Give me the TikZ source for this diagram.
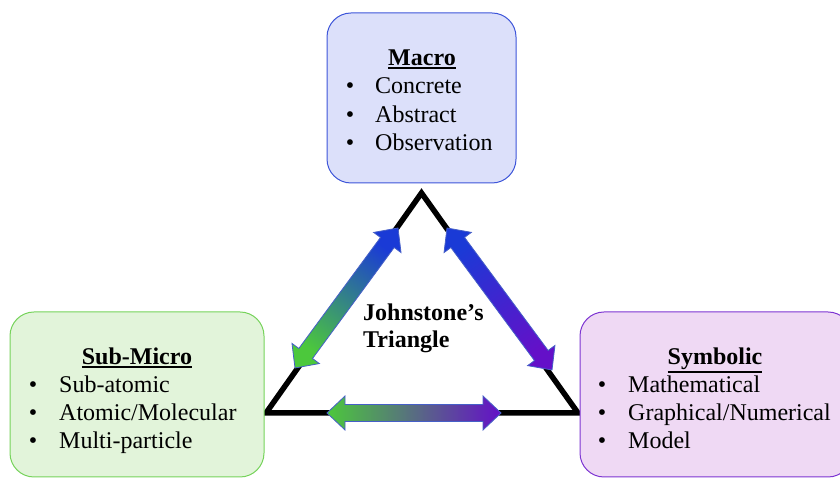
\documentclass[tikz,border=0pt]{standalone}
\usepackage{fontspec}
\setmainfont{Liberation Serif}
\usetikzlibrary{calc}

\definecolor{macrofill}{RGB}{220,224,250}
\definecolor{macroline}{RGB}{61,85,217}
\definecolor{microfill}{RGB}{226,244,218}
\definecolor{microline}{RGB}{118,211,91}
\definecolor{symbfill}{RGB}{239,217,244}
\definecolor{symbline}{RGB}{125,53,210}
\definecolor{arrgreen}{RGB}{76,200,60}
\definecolor{arrblue}{RGB}{26,58,214}
\definecolor{arrpurple}{RGB}{100,16,200}
\definecolor{arredge}{RGB}{70,95,200}

% heading with a heavier underline
\newcommand\thickul[1]{\leavevmode\vtop{\hbox{#1}\kern1.2pt\hrule height 1.7pt}}

\tikzset{
  box/.style={rounded corners=24pt, line width=1pt, inner sep=0pt},
  txt/.style={inner sep=0pt, font=\fontsize{24}{28}\selectfont},
  title/.style={txt, anchor=base, font=\fontsize{24}{28}\selectfont\bfseries},
  bul/.style={txt, anchor=base},
  item/.style={txt, anchor=base west},
  tri/.style={line width=5.5pt, line join=miter},
  gradarrowstyle/.style={draw=arredge, line width=0.8pt, line join=miter}
}

% double-headed block arrow between two named coordinates
\newcommand\gradarrow[3]{%
  \coordinate (#1a) at ($(#1)!18pt!(#2)$);
  \coordinate (#1b) at ($(#2)!18pt!(#1)$);
  \path[gradarrowstyle, #3]
    (#1)
    -- ($(#1a)!17pt!90:(#2)$) -- ($(#1a)!8.5pt!90:(#2)$)
    -- ($(#1b)!8.5pt!-90:(#1)$) -- ($(#1b)!17pt!-90:(#1)$)
    -- (#2)
    -- ($(#1b)!17pt!90:(#1)$) -- ($(#1b)!8.5pt!90:(#1)$)
    -- ($(#1a)!8.5pt!-90:(#2)$) -- ($(#1a)!17pt!-90:(#2)$)
    -- cycle;
}

\begin{document}
\begin{tikzpicture}[x=1pt,y=1pt]
\useasboundingbox (0,0) rectangle (840,478);

% triangle
\coordinate (apex) at (421.5,285);
\coordinate (bl) at (266,65);
\coordinate (br) at (578,65);
\draw[tri] (apex) -- (bl) -- (br) -- cycle;

% boxes
\node[box, fill=macrofill, draw=macroline, minimum width=189pt, minimum height=170pt] (macro) at (421.5,380) {};
\node[box, fill=microfill, draw=microline, minimum width=254pt, minimum height=165pt] (micro) at (137,83.5) {};
\node[box, fill=symbfill, draw=symbline, minimum width=272pt, minimum height=165pt] (symb) at (716,83.5) {};

% Macro text
\node[title] (mt) at (422,412) {\thickul{Macro}};
\node[bul] (mb1) at (350,384) {•};
\node[item] (mi1) at (375,384) {Concrete};
\node[bul] (mb2) at (350,355) {•};
\node[item] (mi2) at (375,355) {Abstract};
\node[bul] (mb3) at (350,327) {•};
\node[item] (mi3) at (375,327) {Observation};

% Sub-Micro text
\node[title] (st) at (137,113) {\thickul{Sub-Micro}};
\node[bul] (sb1) at (33,85) {•};
\node[item] (si1) at (59,85) {Sub-atomic};
\node[bul] (sb2) at (33,57) {•};
\node[item] (si2) at (59,57) {Atomic/Molecular};
\node[bul] (sb3) at (33,29) {•};
\node[item] (si3) at (59,29) {Multi-particle};

% Symbolic text
\node[title] (yt) at (715,113) {\thickul{Symbolic}};
\node[bul] (yb1) at (602,85) {•};
\node[item] (yi1) at (628,85) {Mathematical};
\node[bul] (yb2) at (602,57) {•};
\node[item] (yi2) at (628,57) {Graphical/Numerical};
\node[bul] (yb3) at (602,29) {•};
\node[item] (yi3) at (628,29) {Model};

% centre label
\node[txt, anchor=base west, font=\fontsize{24}{28}\selectfont\bfseries] (j1) at (363,157) {Johnstone’s};
\node[txt, anchor=base west, font=\fontsize{24}{28}\selectfont\bfseries] (j2) at (363,130) {Triangle};

% gradient arrows
\coordinate (la) at (295,110);
\coordinate (lb) at (398,250);
\gradarrow{la}{lb}{top color=arrblue, bottom color=arrgreen, shading angle=-36.4}
\coordinate (ra) at (447,250);
\coordinate (rb) at (552,108);
\gradarrow{ra}{rb}{top color=arrblue, bottom color=arrpurple, shading angle=36.5}
\coordinate (ba) at (327,65);
\coordinate (bb) at (501,65);
\gradarrow{ba}{bb}{left color=arrgreen, right color=arrpurple}
\end{tikzpicture}
\end{document}
